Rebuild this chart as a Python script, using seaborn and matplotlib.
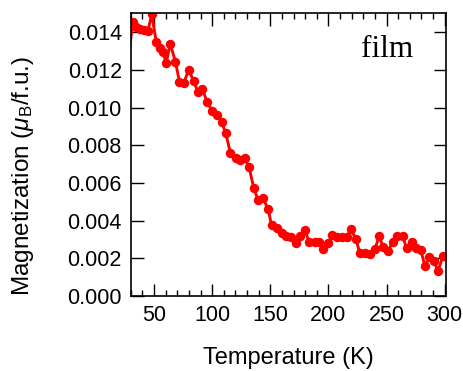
import matplotlib
matplotlib.use("Agg")
import matplotlib.pyplot as plt
from matplotlib.ticker import MultipleLocator
import seaborn as sns
import pandas as pd

## temperature (K) and magnetization (muB/f.u.)
temperature = [26.0, 31.7, 34.6, 37.5, 41.2, 44.6, 48.0, 51.8, 55.2, 57.8,
               60.4, 63.8, 68.4, 71.8, 75.5, 79.6, 84.1, 87.6, 91.6, 95.6,
               99.9, 103.7, 108.0, 111.7, 115.7, 120.3, 124.3, 128.0, 131.7, 135.8,
               139.5, 143.8, 148.1, 151.0, 155.3, 159.6, 163.3, 167.4, 171.7, 175.3,
               179.6, 183.6, 188.2, 191.9, 195.4, 199.7, 203.4, 207.4, 212.0, 215.5,
               219.3, 223.6, 227.0, 231.3, 235.6, 239.9, 243.6, 247.1, 251.4, 255.2,
               259.1, 263.8, 267.2, 271.5, 275.2, 279.4, 283.0, 286.5, 290.5, 294.2,
               298.5]
magnetization = [0.01170, 0.01455, 0.01429, 0.01416, 0.01411, 0.01406, 0.01495, 0.01349, 0.01316, 0.01294,
                 0.01234, 0.01340, 0.01243, 0.01137, 0.01128, 0.01200, 0.01141, 0.01084, 0.01096, 0.01031,
                 0.00983, 0.00960, 0.00925, 0.00863, 0.00757, 0.00730, 0.00722, 0.00730, 0.00683, 0.00571,
                 0.00509, 0.00518, 0.00460, 0.00377, 0.00359, 0.00336, 0.00318, 0.00315, 0.00283, 0.00318,
                 0.00350, 0.00285, 0.00288, 0.00288, 0.00248, 0.00283, 0.00324, 0.00311, 0.00311, 0.00311,
                 0.00354, 0.00301, 0.00227, 0.00227, 0.00223, 0.00248, 0.00318, 0.00258, 0.00240, 0.00288,
                 0.00318, 0.00318, 0.00253, 0.00288, 0.00253, 0.00244, 0.00159, 0.00205, 0.00187, 0.00134,
                 0.00212]

df = pd.DataFrame({"T": temperature, "M": magnetization})

sns.set_style("ticks")
plt.rcParams["font.family"] = ["Liberation Sans", "DejaVu Sans"]
plt.rcParams["mathtext.fontset"] = "custom"
plt.rcParams["mathtext.rm"] = "Liberation Sans"
plt.rcParams["mathtext.it"] = "Liberation Sans:italic"
plt.rcParams["text.color"] = "black"
plt.rcParams["axes.labelcolor"] = "black"

fig = plt.figure(figsize=(4.64, 3.71), dpi=100)
ax = fig.add_axes([0.282, 0.202, 0.679, 0.762])

sns.lineplot(data=df, x="T", y="M", ax=ax, color="#ff0000", linewidth=2.1,
             marker="o", markersize=6.8, markeredgewidth=0, sort=False)

ax.set_xlim(30, 301)
ax.set_ylim(0, 0.015)
ax.xaxis.set_major_locator(MultipleLocator(50))
ax.xaxis.set_minor_locator(MultipleLocator(10))
ax.yaxis.set_major_locator(MultipleLocator(0.002))
ax.yaxis.set_major_formatter(plt.FormatStrFormatter("%.3f"))

ax.tick_params(axis="both", which="both", direction="in", top=True, right=True,
               colors="black", labelcolor="black", labelsize=15.5, width=1.0)
ax.tick_params(which="major", length=9, pad=6.5)
ax.tick_params(which="minor", length=4.5)
for s in ax.spines.values():
    s.set_linewidth(1.2)
    s.set_color("black")

ax.set_xlabel("Temperature (K)", fontsize=17)
ax.set_ylabel(r"Magnetization ($\mu_{\mathrm{B}}$/f.u.)", fontsize=17.5)
ax.xaxis.set_label_coords(0.5, -0.18)
ax.yaxis.set_label_coords(-0.302, 0.425)

ax.text(0.895, 0.846, "film", transform=ax.transAxes, ha="right", va="baseline",
        fontsize=22.5, family=["Liberation Serif", "DejaVu Serif"])

fig.savefig("out.png", dpi=100)
